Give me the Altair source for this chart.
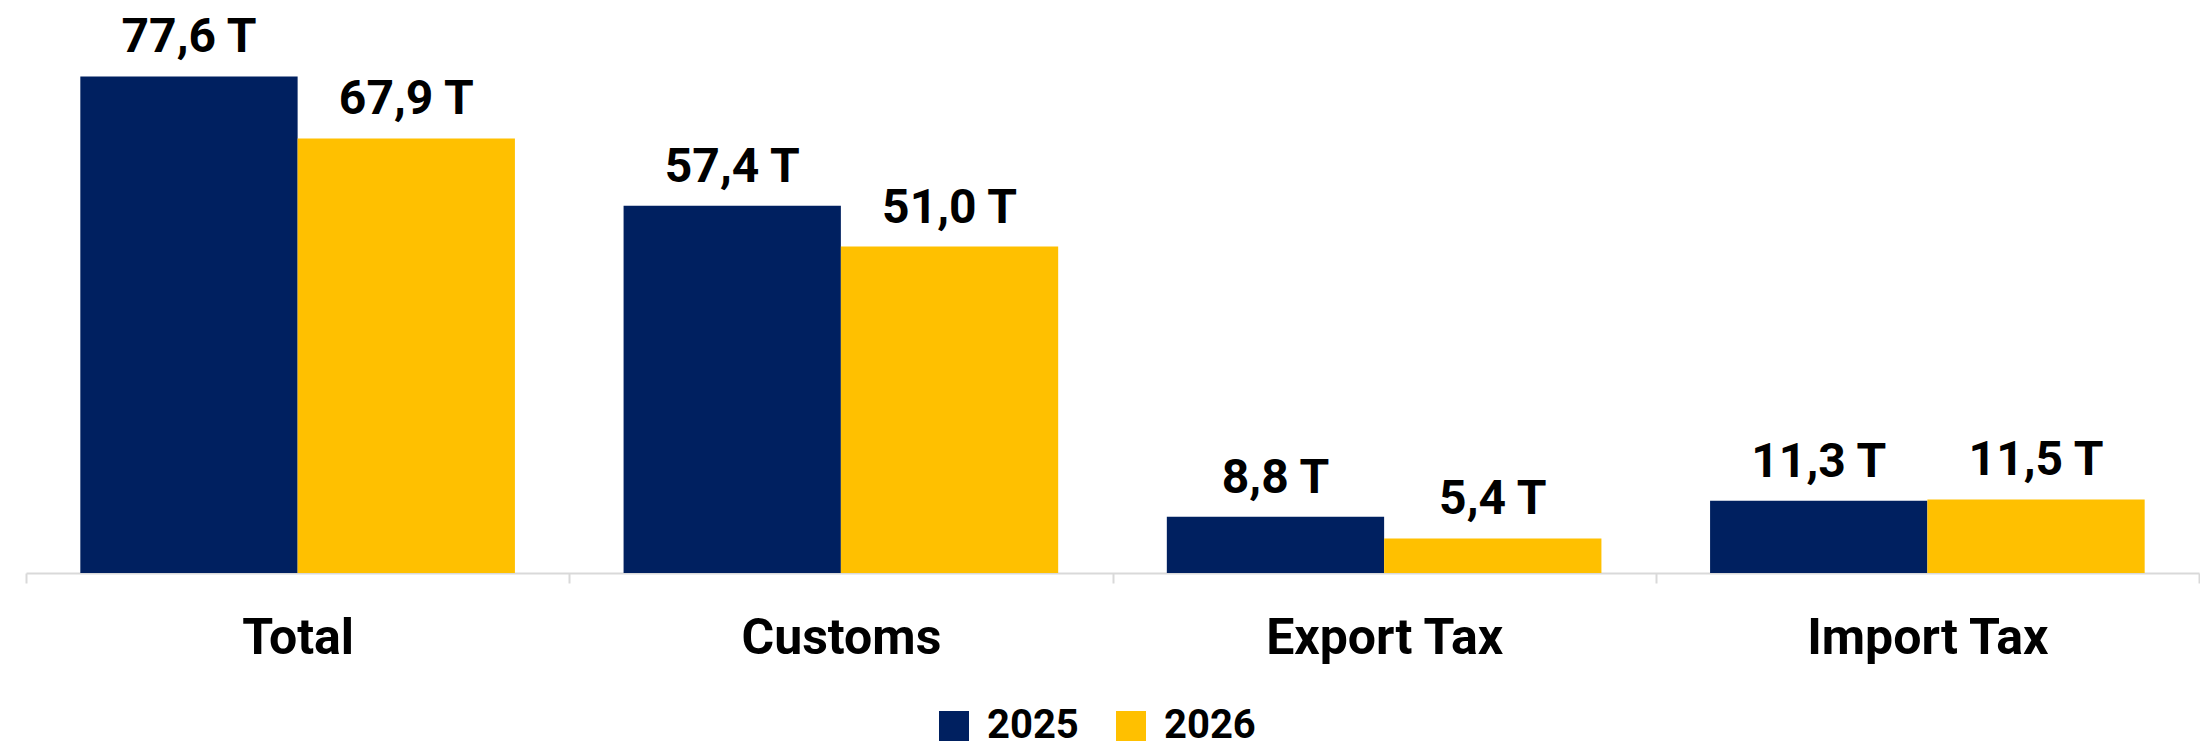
import altair as alt
import pandas as pd

categories = ["Total", "Customs", "Export Tax", "Import Tax"]
years = ["2025", "2026"]
values_2025 = [77.6, 57.4, 8.8, 11.3]
values_2026 = [67.9, 51.0, 5.4, 11.5]
colors = ["#002060", "#FFC000"]

rows = []
for c, a, b in zip(categories, values_2025, values_2026):
    rows.append({"category": c, "year": years[0], "value": a})
    rows.append({"category": c, "year": years[1], "value": b})
df = pd.DataFrame(rows)
df["label"] = df["value"].map(lambda v: f"{v:.1f}".replace(".", ",") + " T")

FONT = "Roboto"

x = alt.X(
    "category:N",
    sort=categories,
    title=None,
    scale=alt.Scale(paddingInner=0, paddingOuter=0),
    axis=alt.Axis(
        labelAngle=0,
        labelFont=FONT,
        labelFontWeight="bold",
        labelFontSize=50,
        labelColor="#000000",
        labelBaseline="alphabetic",
        labelPadding=70,
        labelLimit=0,
        tickBand="extent",
        tickSize=10,
        tickWidth=2,
        tickColor="#d9d9d9",
        domainColor="#d9d9d9",
        domainWidth=2,
        grid=False,
    ),
)
xo = alt.XOffset("year:N", sort=years, scale=alt.Scale(paddingOuter=0.25, paddingInner=0))
y = alt.Y("value:Q", axis=None, scale=alt.Scale(domain=[0, 87.66], nice=False, zero=True))

bars = alt.Chart(df).mark_bar().encode(
    x=x,
    xOffset=xo,
    y=y,
    color=alt.Color(
        "year:N",
        sort=years,
        scale=alt.Scale(domain=years, range=colors),
        legend=alt.Legend(
            title=None,
            orient="none",
            direction="horizontal",
            legendX=908,
            legendY=694,
            symbolType="square",
            symbolSize=900,
            symbolStrokeWidth=0,
            symbolOpacity=1,
            labelFont=FONT,
            labelFontWeight="bold",
            labelFontSize=40,
            labelColor="#000000",
            labelOffset=13,
            labelLimit=0,
            columnPadding=32,
            padding=0,
        ),
    ),
)

labels = alt.Chart(df).mark_text(
    baseline="alphabetic",
    align="center",
    dy=-24,
    font=FONT,
    fontWeight="bold",
    fontSize=48,
    color="#000000",
).encode(
    x=alt.X("category:N", sort=categories),
    xOffset=alt.XOffset("year:N", sort=years),
    y=alt.Y("value:Q"),
    text="label:N",
)

chart = (
    alt.layer(bars, labels)
    .properties(
        width=2173,
        height=561,
        padding={"left": 17, "top": 4, "right": 0, "bottom": 8},
    )
    .configure_view(stroke=None)
)

chart.save("out.html", embed_options={"renderer": "svg", "actions": False})
